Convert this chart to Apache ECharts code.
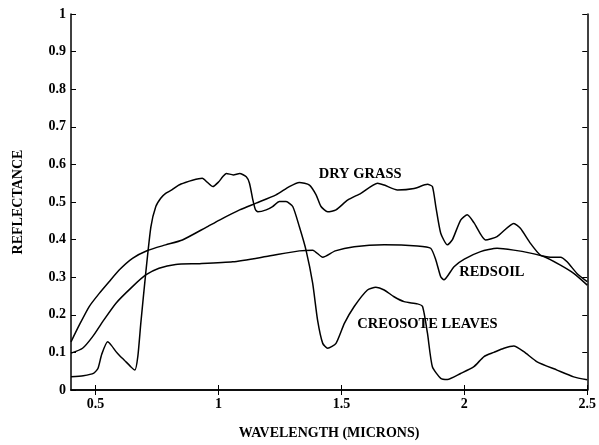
<!DOCTYPE html>
<html>
<head>
<meta charset="utf-8">
<script src="https://cdn.jsdelivr.net/npm/echarts@6/dist/echarts.min.js"></script>
<style>
  html, body { margin: 0; padding: 0; background: #fff; }
  #chart { width: 599px; height: 445px; }
</style>
</head>
<body>
<div id="chart"></div>
<script>
// Spectral reflectance curves, wavelength in microns
const creosoteWl = [0.40, 0.45, 0.493, 0.51, 0.525, 0.549, 0.565, 0.583, 0.60, 0.616, 0.643, 0.66, 0.672, 0.684, 0.704, 0.725, 0.745, 0.765, 0.785, 0.81, 0.838, 0.865, 0.894, 0.934, 0.955, 0.977, 1.00, 1.017, 1.032, 1.06, 1.086, 1.113, 1.126, 1.14, 1.15, 1.16, 1.194, 1.22, 1.248, 1.275, 1.302, 1.329, 1.356, 1.383, 1.403, 1.424, 1.444, 1.478, 1.512, 1.552, 1.606, 1.64, 1.674, 1.714, 1.755, 1.809, 1.83, 1.85, 1.87, 1.904, 1.931, 1.985, 2.039, 2.08, 2.12, 2.161, 2.201, 2.242, 2.296, 2.377, 2.445, 2.50];
const creosoteR  = [0.035, 0.038, 0.045, 0.058, 0.095, 0.128, 0.118, 0.102, 0.090, 0.080, 0.062, 0.053, 0.090, 0.178, 0.311, 0.434, 0.488, 0.510, 0.523, 0.532, 0.545, 0.552, 0.558, 0.563, 0.552, 0.541, 0.553, 0.567, 0.576, 0.572, 0.576, 0.567, 0.550, 0.505, 0.480, 0.474, 0.479, 0.488, 0.501, 0.501, 0.488, 0.434, 0.372, 0.284, 0.186, 0.124, 0.111, 0.124, 0.177, 0.222, 0.266, 0.273, 0.266, 0.248, 0.235, 0.229, 0.222, 0.151, 0.062, 0.031, 0.028, 0.044, 0.062, 0.089, 0.100, 0.111, 0.117, 0.102, 0.075, 0.053, 0.035, 0.027];

const dryGrassWl = [0.40, 0.434, 0.474, 0.515, 0.555, 0.596, 0.65, 0.711, 0.785, 0.853, 0.948, 1.004, 1.086, 1.153, 1.234, 1.288, 1.329, 1.37, 1.397, 1.417, 1.444, 1.478, 1.525, 1.579, 1.647, 1.674, 1.728, 1.796, 1.85, 1.87, 1.884, 1.904, 1.931, 1.951, 1.985, 2.012, 2.039, 2.086, 2.133, 2.201, 2.228, 2.269, 2.309, 2.35, 2.391, 2.418, 2.458, 2.50];
const dryGrassR  = [0.128, 0.173, 0.222, 0.257, 0.288, 0.319, 0.350, 0.371, 0.386, 0.399, 0.432, 0.452, 0.479, 0.497, 0.519, 0.541, 0.552, 0.545, 0.519, 0.488, 0.474, 0.479, 0.505, 0.523, 0.550, 0.545, 0.532, 0.536, 0.547, 0.541, 0.488, 0.417, 0.386, 0.399, 0.452, 0.466, 0.445, 0.399, 0.408, 0.443, 0.430, 0.390, 0.359, 0.353, 0.353, 0.341, 0.310, 0.288];

const redsoilWl = [0.40, 0.447, 0.488, 0.529, 0.583, 0.65, 0.704, 0.758, 0.826, 0.923, 1.058, 1.194, 1.329, 1.383, 1.424, 1.475, 1.552, 1.674, 1.809, 1.863, 1.884, 1.904, 1.917, 1.958, 2.0, 2.066, 2.133, 2.201, 2.269, 2.323, 2.391, 2.445, 2.50];
const redsoilR  = [0.098, 0.111, 0.142, 0.182, 0.231, 0.275, 0.306, 0.324, 0.334, 0.336, 0.341, 0.355, 0.370, 0.372, 0.353, 0.370, 0.381, 0.386, 0.383, 0.377, 0.346, 0.301, 0.293, 0.328, 0.348, 0.368, 0.377, 0.372, 0.364, 0.355, 0.332, 0.310, 0.279];

// Curve captions and where they sit
const captionText = ['DRY GRASS', 'REDSOIL', 'CREOSOTE LEAVES'];
const captionWl   = [1.576, 2.112, 1.85];
const captionR    = [0.574, 0.314, 0.176];

const xTicks = [0.5, 1, 1.5, 2, 2.5];

const zip = (xs, ys) => xs.map((x, i) => [x, ys[i]]);

const font = 'Liberation Serif, Times New Roman, serif';
const ink = '#000';
const fontSize = 14;

const lineStyle = { color: ink, width: 1.5, opacity: 1 };
const curve = (name, xs, ys) => ({
  name, type: 'line', data: zip(xs, ys), showSymbol: false, symbol: 'none',
  smooth: 0.2, lineStyle, silent: true, animation: false
});

const frameAxis = {
  axisLine: { show: true, lineStyle: { color: ink, width: 1.5 } },
  splitLine: { show: false }
};

const chart = echarts.init(document.getElementById('chart'), null, { renderer: 'canvas' });
chart.setOption({
  animation: false,
  backgroundColor: '#fff',
  grid: { left: 71, right: 10, top: 14, bottom: 55, containLabel: false },
  xAxis: [{
    type: 'value', min: 0.4, max: 2.5, position: 'bottom',
    name: 'WAVELENGTH (MICRONS)', nameLocation: 'middle', nameGap: 36,
    nameTextStyle: { fontFamily: font, fontWeight: 'bold', fontSize: fontSize, color: ink },
    axisLine: { show: true, onZero: false, lineStyle: { color: ink, width: 1.5 } },
    axisTick: { show: true, inside: true, length: 5, customValues: xTicks, lineStyle: { color: ink } },
    axisLabel: { customValues: xTicks, margin: 7, fontFamily: font, fontWeight: 'bold', fontSize: fontSize, color: ink },
    splitLine: { show: false }
  }, Object.assign({
    type: 'value', min: 0.4, max: 2.5, position: 'top',
    axisTick: { show: true, inside: true, length: 5, customValues: xTicks, lineStyle: { color: ink } },
    axisLabel: { show: false }
  }, frameAxis)],
  yAxis: [{
    type: 'value', min: 0, max: 1, interval: 0.1, position: 'left',
    name: 'REFLECTANCE', nameLocation: 'middle', nameGap: 46, nameRotate: 90,
    nameTextStyle: { fontFamily: font, fontWeight: 'bold', fontSize: fontSize, color: ink },
    axisLine: { show: true, onZero: false, lineStyle: { color: ink, width: 1.5 } },
    axisTick: { show: true, inside: true, length: 5, lineStyle: { color: ink } },
    axisLabel: { margin: 5, fontFamily: font, fontWeight: 'bold', fontSize: fontSize, color: ink },
    splitLine: { show: false }
  }, Object.assign({
    type: 'value', min: 0, max: 1, interval: 0.1, position: 'right',
    axisTick: { show: true, inside: true, length: 5, lineStyle: { color: ink } },
    axisLabel: { show: false }
  }, frameAxis)],
  series: [
    curve('Creosote leaves', creosoteWl, creosoteR),
    curve('Dry grass', dryGrassWl, dryGrassR),
    curve('Redsoil', redsoilWl, redsoilR),
    {
      type: 'scatter', symbolSize: 0, silent: true, animation: false,
      itemStyle: { opacity: 1, color: ink },
      data: captionText.map((t, i) => ({ value: [captionWl[i], captionR[i]], name: t })),
      label: {
        show: true, position: 'inside', formatter: p => p.name, opacity: 1,
        fontFamily: font, fontWeight: 'bold', fontSize: 14.5, color: ink
      }
    }
  ]
});
</script>
</body>
</html>
